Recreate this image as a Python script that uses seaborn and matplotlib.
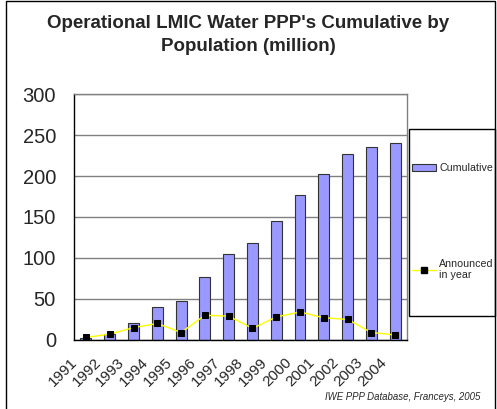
import matplotlib.pyplot as plt
import matplotlib.transforms as mtransforms
from matplotlib.patches import Rectangle, Patch
from matplotlib.lines import Line2D
import numpy as np
import pandas as pd
import seaborn as sns

# Data
years = ['1991', '1992', '1993', '1994', '1995', '1996', '1997',
         '1998', '1999', '2000', '2001', '2002', '2003', '2004']
cumulative = [2, 7, 21, 40, 48, 77, 105, 118, 145, 177, 203, 227, 235, 240]
announced = [3, 7, 15, 20, 9, 30, 29, 14, 28, 34, 27, 25, 9, 6]
y_ticks = [0, 50, 100, 150, 200, 250, 300]

df = pd.DataFrame({'Year': years, 'Cumulative': cumulative, 'Announced': announced})

# Style
sns.set_style('white')
plt.rcParams['font.family'] = ['Liberation Sans', 'DejaVu Sans']

fig = plt.figure(figsize=(4.97, 4.09), dpi=100)
ax = fig.add_axes([0.149, 0.169, 0.670, 0.601])

# Bars + line
sns.barplot(data=df, x='Year', y='Cumulative', color='#9999ff', saturation=1,
            width=0.46, edgecolor='#333333', linewidth=0.8, ax=ax)
sns.lineplot(x=np.arange(len(years)), y=df['Announced'], color='#ffff00',
             linewidth=1, marker='s', markersize=5, markerfacecolor='black',
             markeredgecolor='black', ax=ax, legend=False)

ax.set_xlim(-0.5, len(years) - 0.5)
ax.set_ylim(0, 300)
ax.set_yticks(y_ticks)
ax.set_xlabel('')
ax.set_ylabel('')

# Grid and spines
ax.set_axisbelow(True)
ax.yaxis.grid(True, color='#808080', linewidth=1)
for side in ['left', 'bottom']:
    ax.spines[side].set_color('black')
    ax.spines[side].set_linewidth(1)
for side in ['top', 'right']:
    ax.spines[side].set_color('#808080')
    ax.spines[side].set_linewidth(1)

# Ticks
ax.tick_params(axis='y', length=5, width=1, color='#808080', labelsize=14.5, pad=8)
ax.set_xticks(np.arange(-0.5, len(years)), minor=True)
ax.tick_params(axis='x', which='minor', length=4, width=1, color='#555555', direction='out')
ax.tick_params(axis='x', which='major', length=0, pad=11)
ax.set_xticks(range(len(years)))
ax.set_xticklabels(years, rotation=45, ha='right', fontsize=11)
offset = mtransforms.ScaledTranslation(-6 / 100, 0, fig.dpi_scale_trans)
for lbl in ax.get_xticklabels():
    lbl.set_transform(lbl.get_transform() + offset)

# Title and source
fig.text(0.500, 1 - 15 / 409, "Operational LMIC Water PPP's Cumulative by\nPopulation (million)",
         ha='center', va='top', fontsize=13.5, fontweight='bold', linespacing=1.45)
fig.text(0.966, 1 - 397 / 409, 'IWE PPP Database, Franceys, 2005',
         ha='right', va='center', fontsize=6.9, style='italic')

# Legend with its own box
fig.patches.append(Rectangle((409 / 497, 1 - 316 / 409), 86 / 497, 187 / 409,
                             transform=fig.transFigure, fill=False,
                             edgecolor='black', linewidth=1))
handles = [Patch(facecolor='#9999ff', edgecolor='#333333', linewidth=0.8),
           Line2D([0], [0], color='#ffff00', linewidth=1, marker='s', markersize=5,
                  markerfacecolor='black', markeredgecolor='black')]
fig.legend(handles, ['Cumulative', 'Announced\nin year'], loc='upper left',
           bbox_to_anchor=(408 / 497, 1 - 159 / 409), frameon=False,
           fontsize=7.7, labelspacing=8.0, handlelength=2.2, handleheight=0.6,
           handletextpad=0.3, borderaxespad=0)

# Outer frame
fig.patches.append(Rectangle((6 / 497, -0.05), 489 / 497, 1.05 - 1.5 / 409,
                             transform=fig.transFigure, fill=False,
                             edgecolor='black', linewidth=1))

fig.savefig('out.png', dpi=100)
